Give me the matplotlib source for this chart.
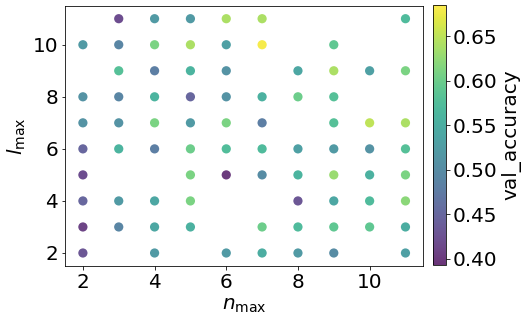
import numpy as np
import matplotlib
matplotlib.use("Agg")
import matplotlib.pyplot as plt

# hyperparameter sweep results: (n_max, l_max) -> val_accuracy
n_max = [3, 4, 5, 6, 7, 11,
         2, 3, 4, 5, 6, 7, 9,
         3, 4, 5, 6, 8, 9, 10, 11,
         2, 3, 4, 5, 6, 7, 8, 9,
         2, 3, 4, 5, 6, 7, 9, 10, 11,
         2, 3, 4, 5, 6, 7, 8, 9, 10, 11,
         2, 5, 6, 7, 8, 9, 10, 11,
         2, 3, 4, 5, 8, 9, 10, 11,
         2, 3, 4, 5, 7, 8, 9, 10, 11,
         2, 4, 6, 7, 8, 9, 11]
l_max = [11, 11, 11, 11, 11, 11,
         10, 10, 10, 10, 10, 10, 10,
         9, 9, 9, 9, 9, 9, 9, 9,
         8, 8, 8, 8, 8, 8, 8, 8,
         7, 7, 7, 7, 7, 7, 7, 7, 7,
         6, 6, 6, 6, 6, 6, 6, 6, 6, 6,
         5, 5, 5, 5, 5, 5, 5, 5,
         4, 4, 4, 4, 4, 4, 4, 4,
         3, 3, 3, 3, 3, 3, 3, 3, 3,
         2, 2, 2, 2, 2, 2, 2]
val_accuracy = [0.42, 0.52, 0.52, 0.64, 0.64, 0.57,
                0.52, 0.49, 0.61, 0.64, 0.53, 0.68, 0.59,
                0.58, 0.48, 0.56, 0.51, 0.54, 0.64, 0.53, 0.61,
                0.51, 0.49, 0.56, 0.45, 0.51, 0.555, 0.60, 0.58,
                0.51, 0.51, 0.61, 0.52, 0.61, 0.48, 0.58, 0.65, 0.64,
                0.45, 0.56, 0.48, 0.60, 0.575, 0.57, 0.53, 0.52, 0.51, 0.58,
                0.42, 0.61, 0.40, 0.50, 0.56, 0.63, 0.555, 0.61,
                0.45, 0.52, 0.54, 0.61, 0.43, 0.54, 0.57, 0.62,
                0.41, 0.49, 0.54, 0.555, 0.60, 0.57, 0.59, 0.59, 0.55,
                0.43, 0.52, 0.52, 0.55, 0.52, 0.50, 0.53]

plt.rcParams["font.size"] = 20

fig = plt.figure(figsize=(524 / 72, 325 / 72), dpi=72)
ax = fig.add_axes([0.124, 0.1815, 0.684, 0.801])
cax = fig.add_axes([0.826, 0.185, 0.025, 0.80])

sc = ax.scatter(n_max, l_max, c=val_accuracy, cmap="viridis", s=85,
                alpha=0.8, vmin=0.393, vmax=0.685, edgecolors="none")

ax.set_xlim(1.5, 11.5)
ax.set_ylim(1.5, 11.5)
ax.set_xticks([2, 4, 6, 8, 10])
ax.set_yticks([2, 4, 6, 8, 10])
ax.set_xlabel(r"$n_{\rm max}$")
ax.set_ylabel(r"$l_{\rm max}$")

cb = fig.colorbar(sc, cax=cax)
cb.set_ticks([0.40, 0.45, 0.50, 0.55, 0.60, 0.65])
cb.set_label("val_accuracy")

fig.savefig("out.png", dpi=72)
